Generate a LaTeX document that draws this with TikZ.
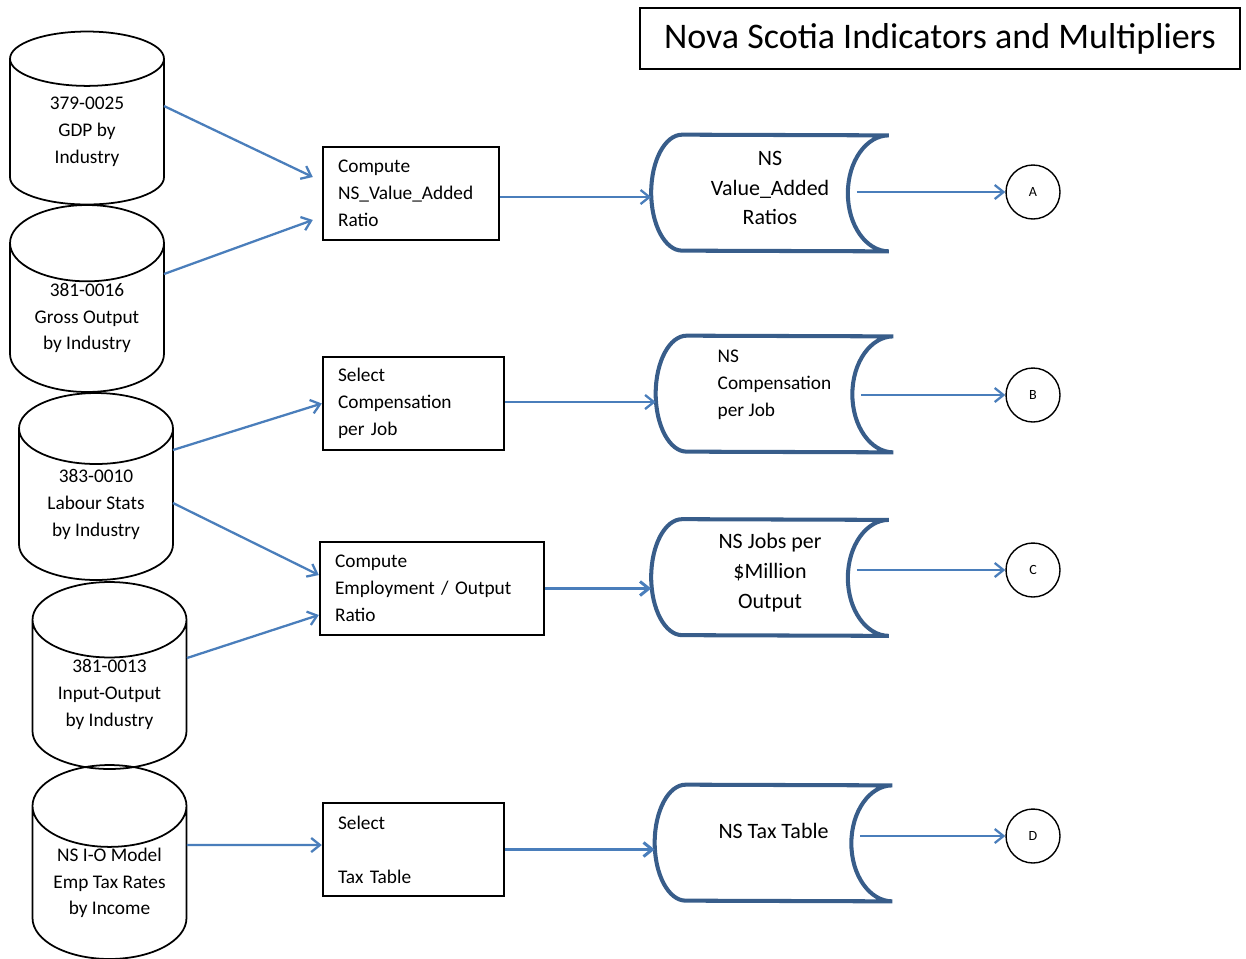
\documentclass[tikz,border=0pt]{standalone}
\usepackage{fontspec}
\setmainfont{Carlito}
\usetikzlibrary{shapes.geometric, arrows.meta, positioning}

\definecolor{flowblue}{RGB}{74,126,187}
\definecolor{storeblue}{RGB}{56,93,138}

\tikzset{
	dbase/.style = {cylinder, shape border rotate=90, aspect=0.73, draw, line width=1pt, minimum width=3.08cm, minimum height=3.74cm, align=center, inner sep=0pt, font=\fontsize{11}{15.3}\selectfont},
	procbox/.style = {rectangle, draw, line width=1.4pt, minimum height=1.86cm, inner xsep=0.3cm, align=left, font=\fontsize{11}{15.3}\selectfont},
	store/.style = {rectangle, minimum width=4.74cm, minimum height=2.32cm},
	storetext/.style = {align=center, font=\fontsize{12.5}{17}\selectfont},
	storeline/.style = {draw=storeblue, line width=2.3pt},
	conn/.style = {circle, draw, line width=0.8pt, minimum size=1.08cm, font=\fontsize{8}{9}\selectfont},
	flowline/.style = {draw=flowblue, line width=1.3pt, -{Straight Barb[length=5pt,width=8pt]}}
}

\begin{document}
\begin{tikzpicture}[x=0.02cm, y=0.02cm]
			\useasboundingbox (0,0) rectangle (1246,-958);
			\node [draw, line width=1.1pt, minimum width=12cm, minimum height=1.22cm, font=\fontsize{20.5}{24}\selectfont] (title) at (940,-38.5) {Nova Scotia Indicators and Multipliers};
			% data sources
			\node [dbase, minimum height=3.46cm, anchor=shape center] (gdp) at (87,-118) {379-0025\\GDP by\\Industry};
			\node [dbase, anchor=shape center] (gross) at (87,-298.5) {381-0016\\Gross Output\\by Industry};
			\node [dbase, anchor=shape center] (labour) at (96,-486.5) {383-0010\\Labour Stats\\by Industry};
			\node [dbase, anchor=shape center] (inout) at (109.5,-675.5) {381-0013\\Input-Output\\by Industry};
			\node [dbase, minimum height=3.8cm, anchor=shape center] (taxrates) at (109.5,-862) {NS I-O Model\\Emp Tax Rates\\by Income};
			% processes
			\node [procbox, text width=2.92cm] (compva) at (411,-193.5) {Compute\\NS\_Value\_Added\\Ratio};
			\node [procbox, text width=3.02cm] (selcomp) at (413.5,-403.5) {Select\\Compensation\\per Job};
			\node [procbox, text width=3.88cm] (compemp) at (432,-588.5) {Compute\\Employment / Output\\Ratio};
			\node [procbox, text width=3.02cm] (seltax) at (413.5,-849.5) {Select\\[15.3pt]Tax Table};
			% stored results
			\node [store, label={[storetext, yshift=0.1cm]center:{NS\\Value\_Added\\Ratios}}] (vastore) at (770,-193) {};
			\node [store, label={[storetext, align=left, font=\fontsize{11}{15.3}\selectfont, yshift=0.18cm]center:{NS\\Compensation\\per Job}}] (compstore) at (774.5,-394) {};
			\node [store, label={[storetext, yshift=0.1cm]center:{NS Jobs per\\\$Million\\Output}}] (jobstore) at (770,-577.5) {};
			\node [store, label={[storetext, yshift=0.24cm]center:{NS Tax Table}}] (taxstore) at (773.5,-843) {};
			\foreach \s in {vastore, compstore, jobstore, taxstore}
				\draw [storeline] ([xshift=0.62cm]\s.north west) arc [start angle=90, end angle=270, x radius=0.62cm, y radius=1.16cm] -- (\s.south east) arc [start angle=270, end angle=90, x radius=0.82cm, y radius=1.16cm] -- cycle;
			% connectors
			\node [conn] (conA) at (1033,-192) {A};
			\node [conn] (conB) at (1033,-395) {B};
			\node [conn] (conC) at (1033,-570) {C};
			\node [conn] (conD) at (1033,-836) {D};
			% flows
			\path [flowline] ([xshift=1.54cm, yshift=0.24cm]gdp.shape center) -- ([xshift=-0.18cm, yshift=0.33cm]compva.west);
			\path [flowline] ([xshift=1.54cm, yshift=0.49cm]gross.shape center) -- ([xshift=-0.18cm, yshift=-0.53cm]compva.west);
			\path [flowline] ([xshift=1.54cm, yshift=0.73cm]labour.shape center) -- (selcomp.west);
			\path [flowline] ([xshift=1.54cm, yshift=-0.33cm]labour.shape center) -- ([yshift=0.27cm]compemp.west);
			\path [flowline] ([xshift=1.55cm, yshift=0.35cm]inout.shape center) -- ([yshift=-0.53cm]compemp.west);
			\path [flowline] ([xshift=1.55cm, yshift=0.34cm]taxrates.shape center) -- ([yshift=0.09cm]seltax.west);
			\path [flowline] ([yshift=-0.07cm]compva.east) -- ([yshift=-0.07cm]compva.east -| vastore.west);
			\path [flowline] ([yshift=0.03cm]selcomp.east) -- ([yshift=0.03cm]selcomp.east -| compstore.west);
			\path [flowline, line width=1.7pt] (compemp.east) -- (compemp.east -| jobstore.west);
			\path [flowline, line width=1.7pt] (seltax.east) -- (seltax.east -| taxstore.west);
			\path [flowline] ([xshift=-0.64cm]vastore.east |- conA.west) -- (conA.west);
			\path [flowline] ([xshift=-0.64cm]compstore.east |- conB.west) -- (conB.west);
			\path [flowline] ([xshift=-0.64cm]jobstore.east |- conC.west) -- (conC.west);
			\path [flowline] ([xshift=-0.64cm]taxstore.east |- conD.west) -- (conD.west);
		\end{tikzpicture}
\end{document}
